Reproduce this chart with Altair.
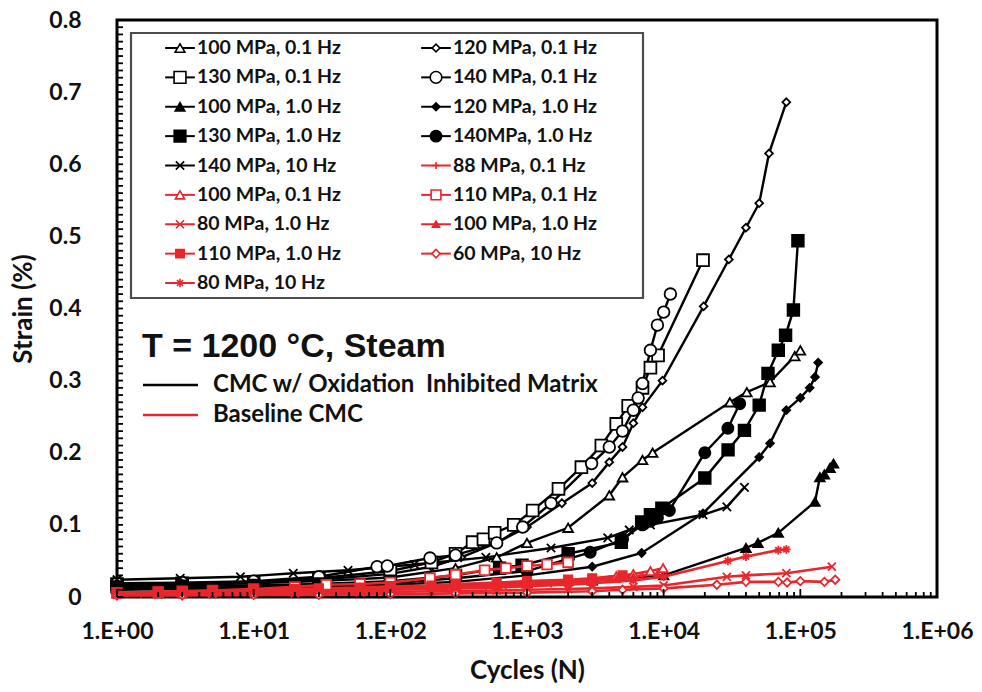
import altair as alt
import pandas as pd

# ---------------- data: cycles (N) and strain (%) for each test ----------------
# CMC with oxidation-inhibited matrix (black)
n_b100_01 = [1, 3, 10, 30, 100, 300, 600, 1000, 2000, 4000, 5000, 7000, 8300, 30500, 40600, 60000, 91000, 100000]
s_b100_01 = [0.016, 0.017, 0.019, 0.022, 0.027, 0.040, 0.055, 0.075, 0.096, 0.141, 0.166, 0.190, 0.200, 0.270, 0.284, 0.298, 0.334, 0.342]

n_b120_01 = [1, 3, 10, 30, 100, 200, 330, 600, 1000, 1800, 3000, 4000, 5000, 6000, 7000, 9800, 19600, 30000, 40000, 50000, 59000, 79000]
s_b120_01 = [0.017, 0.018, 0.020, 0.024, 0.032, 0.042, 0.055, 0.075, 0.097, 0.130, 0.158, 0.187, 0.208, 0.241, 0.263, 0.300, 0.403, 0.468, 0.512, 0.546, 0.615, 0.686]

n_b130_01 = [1, 3, 10, 30, 100, 200, 300, 400, 480, 580, 800, 1100, 1700, 2500, 3500, 4500, 5500, 7000, 8000, 9100, 19400]
s_b130_01 = [0.018, 0.019, 0.021, 0.026, 0.036, 0.048, 0.060, 0.076, 0.080, 0.089, 0.100, 0.120, 0.150, 0.180, 0.210, 0.240, 0.265, 0.290, 0.318, 0.335, 0.467]

n_b140_01 = [1, 3, 10, 30, 80, 95, 195, 300, 600, 930, 1500, 2970, 4000, 5000, 6000, 6500, 7000, 8000, 9000, 10000, 11200]
s_b140_01 = [0.019, 0.020, 0.022, 0.028, 0.042, 0.043, 0.054, 0.058, 0.075, 0.097, 0.130, 0.185, 0.208, 0.230, 0.259, 0.276, 0.296, 0.342, 0.377, 0.395, 0.420]

n_b100_1 = [1, 3, 10, 30, 100, 300, 1000, 3000, 10000, 40000, 49000, 69000, 128000, 139000, 150000, 165000, 175000]
s_b100_1 = [0.010, 0.011, 0.012, 0.013, 0.014, 0.016, 0.019, 0.023, 0.030, 0.068, 0.075, 0.089, 0.132, 0.166, 0.170, 0.179, 0.185]

n_b120_1 = [1, 3, 10, 30, 100, 300, 1000, 3000, 6900, 19400, 50000, 60000, 79000, 100000, 117000, 128000, 135000]
s_b120_1 = [0.012, 0.013, 0.014, 0.015, 0.017, 0.021, 0.030, 0.042, 0.061, 0.116, 0.194, 0.213, 0.259, 0.276, 0.290, 0.305, 0.325]

n_b130_1 = [1, 3, 10, 30, 100, 300, 630, 920, 2000, 4900, 6900, 8000, 9700, 20000, 29600, 39000, 50000, 58000, 69000, 78000, 89000, 96000]
s_b130_1 = [0.014, 0.015, 0.016, 0.018, 0.022, 0.030, 0.040, 0.044, 0.060, 0.076, 0.104, 0.114, 0.123, 0.165, 0.204, 0.231, 0.266, 0.310, 0.342, 0.363, 0.398, 0.494]

n_b140_1 = [1, 3, 10, 30, 100, 300, 1000, 2900, 5000, 7000, 8000, 9000, 11000, 20000, 29500, 36000]
s_b140_1 = [0.013, 0.014, 0.015, 0.016, 0.019, 0.026, 0.036, 0.062, 0.080, 0.100, 0.105, 0.110, 0.120, 0.200, 0.234, 0.268]

n_b140_10 = [1, 2.9, 8, 19.5, 49, 150, 500, 1500, 3900, 5600, 8000, 19400, 29000, 39000]
s_b140_10 = [0.024, 0.026, 0.028, 0.033, 0.037, 0.045, 0.055, 0.068, 0.082, 0.093, 0.100, 0.114, 0.125, 0.152]

# Baseline CMC (red)
n_r88_01 = [1, 1.5, 2, 3, 5, 7, 10, 15, 20, 30, 50, 70, 100, 200, 300, 500, 700, 1000, 1500, 2000, 3000, 4000, 5500, 7000]
s_r88_01 = [0.004, 0.004, 0.005, 0.005, 0.006, 0.006, 0.007, 0.007, 0.008, 0.008, 0.009, 0.009, 0.010, 0.012, 0.013, 0.014, 0.015, 0.016, 0.018, 0.020, 0.022, 0.025, 0.027, 0.030]

n_r100_01 = [1, 2, 3, 5, 10, 20, 30, 60, 100, 200, 300, 600, 1000, 2000, 3000, 4500, 6000, 8000, 9900]
s_r100_01 = [0.005, 0.006, 0.006, 0.007, 0.008, 0.009, 0.010, 0.011, 0.012, 0.014, 0.015, 0.017, 0.019, 0.022, 0.025, 0.029, 0.032, 0.036, 0.040]

n_r110_01 = [1, 2, 3, 5, 10, 20, 34, 60, 100, 195, 300, 490, 700, 1000, 1400, 2000]
s_r110_01 = [0.006, 0.007, 0.008, 0.009, 0.011, 0.014, 0.017, 0.018, 0.020, 0.026, 0.031, 0.037, 0.040, 0.043, 0.045, 0.048]

n_r80_1 = [1, 2, 3, 5, 10, 20, 30, 60, 100, 200, 300, 600, 1000, 2000, 3000, 6000, 10000, 29000, 40000, 79000, 170000]
s_r80_1 = [0.003, 0.003, 0.004, 0.004, 0.005, 0.005, 0.006, 0.006, 0.007, 0.008, 0.008, 0.009, 0.010, 0.011, 0.012, 0.014, 0.016, 0.028, 0.030, 0.033, 0.042]

n_r100_1 = [1, 2, 3, 5, 10, 20, 30, 60, 100, 200, 300, 600, 1000, 2000, 3000, 4500, 6000, 9000]
s_r100_1 = [0.005, 0.006, 0.007, 0.008, 0.009, 0.010, 0.011, 0.012, 0.013, 0.014, 0.015, 0.017, 0.018, 0.020, 0.022, 0.025, 0.028, 0.032]

n_r110_1 = [1, 2, 3, 5, 10, 20, 30, 60, 100, 200, 300, 600, 1000, 2000, 3000, 5000]
s_r110_1 = [0.006, 0.007, 0.008, 0.009, 0.010, 0.011, 0.012, 0.013, 0.015, 0.016, 0.018, 0.020, 0.022, 0.024, 0.026, 0.030]

n_r60_10 = [1, 3, 10, 30, 100, 300, 1000, 3000, 5000, 10000, 24500, 40000, 69000, 80000, 100000, 150000, 180000]
s_r60_10 = [0.002, 0.002, 0.003, 0.003, 0.004, 0.005, 0.006, 0.008, 0.010, 0.012, 0.017, 0.021, 0.021, 0.020, 0.022, 0.021, 0.024]

n_r80_10 = [1, 2, 3, 5, 10, 20, 30, 60, 100, 200, 300, 600, 1000, 2000, 3000, 6000, 10000, 29500, 40000, 69000, 79000]
s_r80_10 = [0.004, 0.004, 0.005, 0.005, 0.006, 0.007, 0.008, 0.009, 0.010, 0.011, 0.012, 0.013, 0.015, 0.017, 0.019, 0.023, 0.028, 0.050, 0.056, 0.065, 0.066]

# key, legend label, material group, cycles, strain
series = [
    ("b100_01", "100 MPa, 0.1 Hz", "black", n_b100_01, s_b100_01),
    ("b120_01", "120 MPa, 0.1 Hz", "black", n_b120_01, s_b120_01),
    ("b130_01", "130 MPa, 0.1 Hz", "black", n_b130_01, s_b130_01),
    ("b140_01", "140 MPa, 0.1 Hz", "black", n_b140_01, s_b140_01),
    ("b100_1", "100 MPa, 1.0 Hz", "black", n_b100_1, s_b100_1),
    ("b120_1", "120 MPa, 1.0 Hz", "black", n_b120_1, s_b120_1),
    ("b130_1", "130 MPa, 1.0 Hz", "black", n_b130_1, s_b130_1),
    ("b140_1", "140MPa, 1.0 Hz", "black", n_b140_1, s_b140_1),
    ("b140_10", "140 MPa, 10 Hz", "black", n_b140_10, s_b140_10),
    ("r88_01", "88 MPa, 0.1 Hz", "red", n_r88_01, s_r88_01),
    ("r100_01", "100 MPa, 0.1 Hz", "red", n_r100_01, s_r100_01),
    ("r110_01", "110 MPa, 0.1 Hz", "red", n_r110_01, s_r110_01),
    ("r80_1", "80 MPa, 1.0 Hz", "red", n_r80_1, s_r80_1),
    ("r100_1", "100 MPa, 1.0 Hz", "red", n_r100_1, s_r100_1),
    ("r110_1", "110 MPa, 1.0 Hz", "red", n_r110_1, s_r110_1),
    ("r60_10", "60 MPa, 10 Hz", "red", n_r60_10, s_r60_10),
    ("r80_10", "80 MPa, 10 Hz", "red", n_r80_10, s_r80_10),
]

# legend reading order (two columns)
legend_col1 = ["b100_01", "b130_01", "b100_1", "b130_1", "b140_10", "r100_01", "r80_1", "r110_1", "r80_10"]
legend_col2 = ["b120_01", "b140_01", "b120_1", "b140_1", "r88_01", "r110_01", "r100_1", "r60_10"]

# ---------------- marker styles ----------------
RED = "#e8262b"
X_PATH = "M-1,-1L1,1M-1,1L1,-1"
PLUS_PATH = "M-1,0L1,0M0,-1L0,1"
STAR_PATH = "M-1,0L1,0M0,-1L0,1M-0.7,-0.7L0.7,0.7M-0.7,0.7L0.7,-0.7"
style = {
    # key: (shape, fill, stroke, size)
    "b100_01": ("triangle-up", "white", "black", 95),
    "b120_01": ("diamond", "white", "black", 60),
    "b130_01": ("square", "white", "black", 140),
    "b140_01": ("circle", "white", "black", 135),
    "b100_1": ("triangle-up", "black", "black", 90),
    "b120_1": ("diamond", "black", "black", 60),
    "b130_1": ("square", "black", "black", 135),
    "b140_1": ("circle", "black", "black", 125),
    "b140_10": (X_PATH, "black", "black", 70),
    "r88_01": (PLUS_PATH, RED, RED, 50),
    "r100_01": ("triangle-up", "white", RED, 85),
    "r110_01": ("square", "white", RED, 95),
    "r80_1": (X_PATH, RED, RED, 65),
    "r100_1": ("triangle-up", RED, RED, 50),
    "r110_1": ("square", RED, RED, 70),
    "r60_10": ("diamond", "white", RED, 70),
    "r80_10": (STAR_PATH, RED, RED, 75),
}

keys = [s[0] for s in series]
labels = {s[0]: s[1] for s in series}

rows = []
for key, label, group, ns, ss in series:
    for i, (n, s) in enumerate(zip(ns, ss)):
        rows.append({"key": key, "group": group, "N": n, "strain": s, "idx": i})
df = pd.DataFrame(rows)

leg_rows = []
for c, col in enumerate([legend_col1, legend_col2]):
    for r, key in enumerate(col):
        leg_rows.append({"key": key, "label": labels[key], "col": c, "row": r})
ldf = pd.DataFrame(leg_rows)

# ---------------- scales and axes ----------------
W, H = 820, 577
FONT = "Lato"
INK = "#111111"
xs = alt.Scale(type="log", domain=[1, 1e6], nice=False)
ys = alt.Scale(domain=[0, 0.8], nice=False, zero=False)

x_axis = alt.Axis(
    values=[10 ** k for k in range(7)],
    labelExpr="'1.E+0' + round(log(datum.value) / LN10)",
    ticks=False, domain=False, grid=False, labelOverlap=False, labelFlush=False,
    labelFont=FONT, labelFontWeight="bold", labelFontSize=23, labelColor=INK,
    labelPadding=23,
    title="Cycles (N)", titleFont=FONT, titleFontWeight="bold", titleFontSize=26,
    titleColor=INK, titlePadding=14,
)
y_axis = alt.Axis(
    values=[k / 10 for k in range(9)],
    labelExpr="datum.value == 0 ? '0' : format(datum.value, '.1f')",
    ticks=False, domain=False, grid=False, labelOverlap=False, labelFlush=False,
    labelFont=FONT, labelFontWeight="bold", labelFontSize=23, labelColor=INK,
    labelPadding=36,
    title="Strain (%)", titleFont=FONT, titleFontWeight="bold", titleFontSize=26,
    titleColor=INK, titlePadding=12,
)

shape_enc = alt.Shape("key:N", scale=alt.Scale(domain=keys, range=[style[k][0] for k in keys]), legend=None)
fill_enc = alt.Fill("key:N", scale=alt.Scale(domain=keys, range=[style[k][1] for k in keys]), legend=None)
stroke_enc = alt.Stroke("key:N", scale=alt.Scale(domain=keys, range=[style[k][2] for k in keys]), legend=None)
size_enc = alt.Size("key:N", scale=alt.Scale(type="ordinal", domain=keys, range=[style[k][3] for k in keys]), legend=None)

base = alt.Chart(df).encode(
    x=alt.X("N:Q", scale=xs, axis=x_axis),
    y=alt.Y("strain:Q", scale=ys, axis=y_axis),
)


def curves(group, color, width):
    sub = base.transform_filter(alt.datum.group == group)
    lines = sub.mark_line(color=color, strokeWidth=width).encode(detail="key:N", order="idx:Q")
    pts = sub.mark_point(filled=True, opacity=1, strokeWidth=1.8).encode(
        shape=shape_enc, fill=fill_enc, stroke=stroke_enc, size=size_enc
    )
    return lines, pts


black_lines, black_pts = curves("black", "black", 2.4)
red_lines, red_pts = curves("red", RED, 2.6)

# inward tick marks on the left and bottom edges
y_ticks = pd.DataFrame({"v": [k / 100 for k in range(81)]})
x_minor = pd.DataFrame({"v": [m * 10 ** d for d in range(6) for m in range(2, 10)]})
x_major = pd.DataFrame({"v": [10 ** d for d in range(7)]})

yt = alt.Chart(y_ticks).mark_rule(color="black", strokeWidth=1.8).encode(
    y=alt.Y("v:Q", scale=ys, axis=y_axis), x=alt.value(0), x2=alt.value(6)
)
xt_minor = alt.Chart(x_minor).mark_rule(color="black", strokeWidth=1.8).encode(
    x=alt.X("v:Q", scale=xs, axis=x_axis), y=alt.value(H), y2=alt.value(H - 5)
)
xt_major = alt.Chart(x_major).mark_rule(color="black", strokeWidth=1.8).encode(
    x=alt.X("v:Q", scale=xs, axis=x_axis), y=alt.value(H), y2=alt.value(H - 8)
)

main = alt.layer(black_lines, black_pts, red_lines, red_pts, yt, xt_minor, xt_major)

# ---------------- legend box ----------------
one = pd.DataFrame({"a": [0]})
lxs = alt.Scale(domain=[0, 1], range=[63, 319])
lys = alt.Scale(domain=[0, 8], range=[28, 263])

box = alt.Chart(one).mark_rect(fill="white", stroke="#4d4d4d", strokeWidth=2.2).encode(
    x=alt.value(14), x2=alt.value(526), y=alt.value(13), y2=alt.value(278)
)
lbase = alt.Chart(ldf).encode(
    x=alt.X("col:Q", scale=lxs, axis=None),
    y=alt.Y("row:Q", scale=lys, axis=None),
)
stubs = lbase.transform_calculate(c0="datum.col - 0.058", c1="datum.col + 0.058").mark_rule(
    strokeWidth=2
).encode(
    x=alt.X("c0:Q", scale=lxs, axis=None), x2="c1:Q", stroke=stroke_enc
)
lpts = lbase.mark_point(filled=True, opacity=1, strokeWidth=1.6).encode(
    shape=shape_enc, fill=fill_enc, stroke=stroke_enc, size=size_enc
)
ltext = lbase.mark_text(
    align="left", baseline="middle", dx=17, font=FONT, fontWeight="bold", fontSize=19.5, color=INK
).encode(text="label:N")

# ---------------- annotation ----------------
cond = alt.Chart(one).mark_text(
    align="left", baseline="middle", font="Liberation Sans", fontWeight="bold", fontSize=34, color=INK
).encode(x=alt.value(25), y=alt.value(327), text=alt.value("T = 1200 °C, Steam"))
k1_line = alt.Chart(one).mark_rule(color="black", strokeWidth=2.6).encode(
    x=alt.value(26), x2=alt.value(81), y=alt.value(365)
)
k2_line = alt.Chart(one).mark_rule(color=RED, strokeWidth=2.6).encode(
    x=alt.value(26), x2=alt.value(81), y=alt.value(395)
)
k1_text = alt.Chart(one).mark_text(
    align="left", baseline="middle", font=FONT, fontWeight="bold", fontSize=24, color=INK
).encode(x=alt.value(96), y=alt.value(365), text=alt.value("CMC w/ Oxidation\u00a0 Inhibited Matrix"))
k2_text = alt.Chart(one).mark_text(
    align="left", baseline="middle", font=FONT, fontWeight="bold", fontSize=24, color=INK
).encode(x=alt.value(96), y=alt.value(395), text=alt.value("Baseline CMC"))

overlay = alt.layer(box, stubs, lpts, ltext, cond, k1_line, k2_line, k1_text, k2_text)

chart = (
    alt.layer(main, overlay)
    .resolve_scale(x="independent", y="independent")
    .properties(
        width=W,
        height=H,
        padding={"left": 117, "top": 20, "right": 45, "bottom": 95},
        autosize=alt.AutoSizeParams(type="none"),
        background="white",
    )
    .configure_view(stroke="black", strokeWidth=3)
)

chart.save("out.html", embed_options={"renderer": "svg", "actions": False})
